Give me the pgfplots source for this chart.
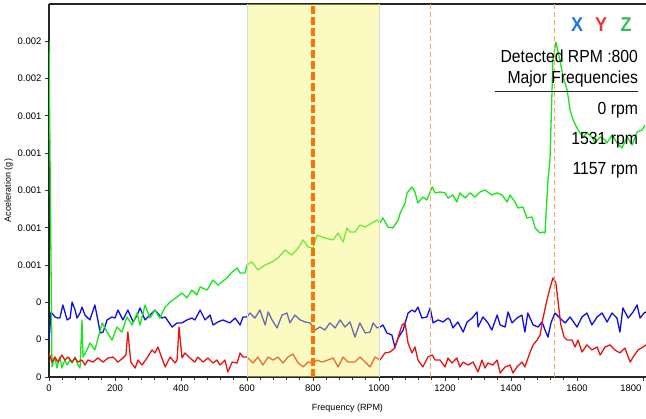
\documentclass[border=0pt]{standalone}
\usepackage{fontspec}
\setmainfont{Liberation Sans}
\newfontfamily\annfont[FakeStretch=0.9]{Liberation Sans}
\usepackage{pgfplots}
\pgfplotsset{compat=1.18}
\usetikzlibrary{calc}
\definecolor{cgreen}{RGB}{25,230,25}
\definecolor{cblue}{RGB}{15,15,225}
\definecolor{cred}{RGB}{232,20,20}
\definecolor{bandyellow}{RGB}{245,245,100}
\definecolor{dorange}{RGB}{250,115,5}
\definecolor{lorange}{RGB}{245,165,95}
\definecolor{legX}{RGB}{30,120,232}
\definecolor{legY}{RGB}{240,50,50}
\definecolor{legZ}{RGB}{50,190,85}
\begin{document}
\begin{tikzpicture}
\begin{axis}[
  scale only axis, width=597bp, height=373bp,
  xmin=0, xmax=1809, ymin=0, ymax=0.002,
  axis x line*=box, axis y line*=left,
  xtick pos=bottom, ytick pos=left,
  xtick={0,200,400,600,800,1000,1200,1400,1600},
  extra x ticks={1800},
  extra x tick style={grid=none, xticklabel style={anchor=north east, xshift=2bp}},
  minor x tick num=4,
  ytick={0,0.0002,0.0004,0.0006,0.0008,0.001,0.0012,0.0014,0.0016,0.0018},
  yticklabels={0,0,0,0.001,0.001,0.001,0.001,0.001,0.002,0.002},
  scaled y ticks=false,
  /pgf/number format/1000 sep={},
  /pgf/number format/assume math mode=true,
  tick align=outside, major tick length=4bp, minor tick length=2.5bp,
  tick style={black!80, line width=0.8bp},
  axis line style={black!85, line width=1.2bp},
  ticklabel style={font=\fontsize{9.5bp}{11bp}\selectfont},
  label style={font=\fontsize{9bp}{11bp}\selectfont},
  xlabel={Frequency (RPM)}, ylabel={Acceleration (g)},
  xlabel style={yshift=2bp},
  ylabel style={yshift=-2bp},
]
% Y axis (blue)
\addplot[cblue, line width=1.3bp, line join=round] coordinates {
(0,1.88e-4)(6,3.49e-4)(18,3.22e-4)(27,3.16e-4)(33,3.16e-4)(42,3.86e-4)(55,3.06e-4)(64,3.16e-4)(70,4.02e-4)(79,3.59e-4)
(85,3.16e-4)(94,3.43e-4)(100,3.75e-4)(109,3.32e-4)(118,3.16e-4)(124,3.06e-4)(139,3.86e-4)(148,3.06e-4)(155,2.36e-4)(164,2.41e-4)
(176,3.06e-4)(191,3.22e-4)(200,3.16e-4)(209,3.59e-4)(224,3.06e-4)(239,3.59e-4)(255,2.95e-4)(267,3.32e-4)(276,3.70e-4)(291,3.06e-4)
(306,3.32e-4)(321,3.59e-4)(342,3.16e-4)(352,3.22e-4)(373,2.68e-4)(388,2.90e-4)(403,2.90e-4)(418,3.06e-4)(433,3.16e-4)(442,3.06e-4)
(458,3.59e-4)(473,3.06e-4)(488,3.32e-4)(497,2.79e-4)(512,2.95e-4)(527,3.06e-4)(548,2.90e-4)(564,3.16e-4)(579,2.79e-4)(588,3.22e-4)
(600,3.22e-4)(609,3.43e-4)(624,3.16e-4)(639,3.59e-4)(655,2.79e-4)(664,3.49e-4)(676,3.06e-4)(691,2.63e-4)(706,3.32e-4)(721,3.43e-4)
(730,2.90e-4)(745,3.32e-4)(761,3.06e-4)(776,2.95e-4)(791,2.90e-4)(806,2.52e-4)(821,2.68e-4)(836,2.52e-4)(851,2.90e-4)(867,2.63e-4)
(882,3.06e-4)(897,2.68e-4)(912,2.95e-4)(927,2.14e-4)(942,2.90e-4)(958,2.36e-4)(973,2.41e-4)(982,2.90e-4)(994,2.63e-4)(1003,2.68e-4)
(1012,2.79e-4)(1024,2.36e-4)(1039,2.25e-4)(1048,1.61e-4)(1058,2.09e-4)(1073,2.52e-4)(1088,3.43e-4)(1100,3.59e-4)(1109,3.49e-4)(1118,3.75e-4)
(1130,3.16e-4)(1145,3.22e-4)(1155,3.70e-4)(1164,2.90e-4)(1179,3.06e-4)(1194,2.95e-4)(1209,3.16e-4)(1215,3.06e-4)(1224,2.63e-4)(1239,2.95e-4)
(1255,2.41e-4)(1267,2.95e-4)(1282,3.16e-4)(1297,3.49e-4)(1300,2.68e-4)(1315,3.22e-4)(1330,2.90e-4)(1342,2.52e-4)(1358,3.32e-4)(1367,2.79e-4)
(1382,2.68e-4)(1391,3.49e-4)(1403,2.90e-4)(1418,3.16e-4)(1433,3.32e-4)(1442,2.41e-4)(1451,3.43e-4)(1467,2.79e-4)(1482,2.68e-4)(1494,2.95e-4)
(1503,2.52e-4)(1512,2.14e-4)(1521,2.90e-4)(1533,3.43e-4)(1548,3.16e-4)(1564,2.90e-4)(1579,3.22e-4)(1600,2.68e-4)(1615,3.22e-4)(1630,3.43e-4)
(1645,2.79e-4)(1661,3.22e-4)(1676,3.43e-4)(1691,2.95e-4)(1706,3.43e-4)(1721,3.16e-4)(1730,2.41e-4)(1739,3.70e-4)(1755,3.16e-4)(1770,3.49e-4)
(1782,3.86e-4)(1791,3.16e-4)(1803,3.43e-4)(1809,3.49e-4)
};
% Z axis (green)
\addplot[cgreen, line width=1.3bp, line join=round] coordinates {
(0,18.0e-4)(9,0.54e-4)(18,1.07e-4)(24,0.48e-4)(33,1.07e-4)(39,0.48e-4)(48,0.91e-4)(55,0.64e-4)(64,0.91e-4)(70,0.75e-4)
(79,1.07e-4)(88,0.64e-4)(94,0.48e-4)(100,3.06e-4)(103,1.07e-4)(115,1.45e-4)(124,1.82e-4)(139,1.45e-4)(161,2.90e-4)(176,2.41e-4)
(191,1.98e-4)(206,2.68e-4)(221,2.41e-4)(236,3.22e-4)(252,2.79e-4)(267,3.43e-4)(276,2.79e-4)(291,3.86e-4)(306,3.16e-4)(321,3.59e-4)
(336,3.16e-4)(352,3.75e-4)(367,4.02e-4)(388,4.29e-4)(403,4.50e-4)(418,4.24e-4)(433,4.66e-4)(448,4.40e-4)(458,4.83e-4)(479,4.66e-4)
(497,5.20e-4)(512,4.93e-4)(539,5.31e-4)(555,5.63e-4)(570,5.84e-4)(579,5.58e-4)(594,5.58e-4)(600,6.01e-4)(615,6.17e-4)(633,5.74e-4)
(655,6.01e-4)(676,6.17e-4)(694,6.38e-4)(715,6.81e-4)(736,6.54e-4)(755,6.92e-4)(770,7.35e-4)(785,6.97e-4)(800,6.92e-4)(812,7.61e-4)
(836,7.45e-4)(861,7.35e-4)(876,7.72e-4)(891,7.24e-4)(903,7.99e-4)(912,7.77e-4)(927,7.77e-4)(942,8.15e-4)(958,8.04e-4)(979,8.26e-4)
(994,8.42e-4)(1003,8.26e-4)(1012,8.53e-4)(1027,8.04e-4)(1042,7.99e-4)(1058,8.42e-4)(1064,8.79e-4)(1079,9.33e-4)(1085,9.87e-4)(1100,10.19e-4)
(1109,9.92e-4)(1118,9.33e-4)(1133,9.65e-4)(1145,9.49e-4)(1161,10.19e-4)(1170,9.87e-4)(1185,9.92e-4)(1200,9.87e-4)(1209,9.60e-4)(1224,9.76e-4)
(1236,9.38e-4)(1245,9.87e-4)(1261,9.60e-4)(1276,9.87e-4)(1291,9.65e-4)(1306,9.92e-4)(1321,10.03e-4)(1342,9.76e-4)(1358,9.87e-4)(1373,9.76e-4)
(1388,9.38e-4)(1397,9.76e-4)(1412,9.38e-4)(1421,9.06e-4)(1436,9.12e-4)(1448,8.53e-4)(1464,8.58e-4)(1473,7.99e-4)(1488,7.72e-4)(1497,7.77e-4)
(1503,7.72e-4)(1512,10.56e-4)(1518,11.64e-4)(1527,17.0e-4)(1536,17.96e-4)(1548,17.0e-4)(1558,16.09e-4)(1570,15.39e-4)(1579,14.32e-4)(1588,13.78e-4)
(1600,13.35e-4)(1609,13.08e-4)(1618,12.87e-4)(1630,13.08e-4)(1645,12.87e-4)(1655,12.55e-4)(1670,12.87e-4)(1685,12.71e-4)(1691,12.55e-4)(1706,12.98e-4)
(1721,12.55e-4)(1736,12.28e-4)(1752,12.87e-4)(1767,12.44e-4)(1782,13.14e-4)(1797,13.24e-4)(1806,13.51e-4)
};
% X axis (red)
\addplot[cred, line width=1.3bp, line join=round] coordinates {
(0,1.29e-4)(9,0.80e-4)(18,1.07e-4)(27,0.80e-4)(39,1.18e-4)(48,0.91e-4)(58,1.07e-4)(70,0.80e-4)(79,1.02e-4)(88,0.80e-4)
(100,0.91e-4)(109,0.64e-4)(118,0.91e-4)(133,0.80e-4)(148,1.02e-4)(164,0.80e-4)(179,1.02e-4)(194,1.07e-4)(209,0.80e-4)(224,1.02e-4)
(233,1.18e-4)(239,2.41e-4)(248,0.80e-4)(261,0.48e-4)(270,0.91e-4)(282,0.64e-4)(297,1.02e-4)(312,1.45e-4)(321,1.29e-4)(330,1.61e-4)
(342,1.02e-4)(352,0.54e-4)(367,1.07e-4)(382,0.75e-4)(388,0.91e-4)(394,2.68e-4)(403,1.02e-4)(412,1.29e-4)(427,1.02e-4)(442,0.80e-4)
(451,1.07e-4)(467,0.80e-4)(482,1.02e-4)(497,0.75e-4)(509,0.91e-4)(518,0.64e-4)(533,0.91e-4)(542,0.27e-4)(555,0.80e-4)(570,0.75e-4)
(579,1.29e-4)(588,1.07e-4)(600,1.07e-4)(609,0.91e-4)(618,0.75e-4)(633,1.07e-4)(648,0.64e-4)(664,1.07e-4)(679,0.91e-4)(694,1.07e-4)
(709,0.75e-4)(724,1.07e-4)(739,1.23e-4)(755,0.75e-4)(770,0.54e-4)(785,0.80e-4)(800,0.75e-4)(812,0.91e-4)(827,0.80e-4)(845,0.91e-4)
(861,1.02e-4)(876,0.54e-4)(891,1.07e-4)(906,0.80e-4)(927,0.80e-4)(942,1.07e-4)(958,0.80e-4)(973,0.54e-4)(988,1.07e-4)(1003,0.91e-4)
(1018,1.29e-4)(1033,1.34e-4)(1048,1.55e-4)(1058,2.14e-4)(1070,2.79e-4)(1079,2.90e-4)(1088,1.82e-4)(1100,1.29e-4)(1109,1.61e-4)(1118,0.91e-4)
(1133,0.54e-4)(1148,1.07e-4)(1161,1.18e-4)(1170,0.91e-4)(1185,0.91e-4)(1200,0.54e-4)(1209,1.02e-4)(1221,0.75e-4)(1236,1.02e-4)(1245,0.54e-4)
(1255,0.80e-4)(1270,0.64e-4)(1285,0.80e-4)(1300,0.27e-4)(1312,0.91e-4)(1321,0.48e-4)(1330,0.75e-4)(1345,0.64e-4)(1358,0.91e-4)(1367,0.21e-4)
(1382,0.54e-4)(1397,0.64e-4)(1406,0.21e-4)(1418,0.54e-4)(1433,0.80e-4)(1442,0.54e-4)(1458,1.34e-4)(1467,1.72e-4)(1479,1.98e-4)(1488,2.25e-4)
(1497,3.16e-4)(1509,4.13e-4)(1518,4.77e-4)(1527,5.31e-4)(1536,5.04e-4)(1542,4.13e-4)(1551,2.79e-4)(1561,2.14e-4)(1570,1.98e-4)(1585,1.98e-4)
(1594,1.61e-4)(1603,1.98e-4)(1615,1.34e-4)(1630,1.72e-4)(1645,1.45e-4)(1661,1.61e-4)(1670,1.18e-4)(1685,1.61e-4)(1700,1.72e-4)(1715,1.45e-4)
(1730,1.29e-4)(1745,1.55e-4)(1761,0.80e-4)(1770,1.07e-4)(1785,1.45e-4)(1800,1.61e-4)(1809,1.72e-4)
};
% highlighted band 600-1000
\addplot[draw=none, fill=bandyellow, fill opacity=0.4] coordinates {(600,0.002) (1000,0.002)} \closedcycle;
\addplot[black!15, line width=0.6bp] coordinates {(600,0) (600,0.002)};
\addplot[black!15, line width=0.6bp] coordinates {(1000,0) (1000,0.002)};
% markers
\addplot[lorange, line width=0.8bp, dash pattern=on 5bp off 3bp] coordinates {(1157,0) (1157,0.002)};
\addplot[lorange, line width=0.8bp, dash pattern=on 5bp off 3bp] coordinates {(1531,0) (1531,0.002)};
\addplot[dorange, line width=3.3bp, dash pattern=on 8bp off 3bp] coordinates {(800,0) (800,0.002)};
\end{axis}
% annotations
\begin{scope}[every node/.style={inner sep=0pt, outer sep=0pt}]
\node[anchor=base, text=legX] at ($(current axis.north east)+(-69bp,-28bp)$) {\annfont\bfseries\fontsize{20bp}{22bp}\selectfont X};
\node[anchor=base, text=legY] at ($(current axis.north east)+(-45bp,-28bp)$) {\annfont\bfseries\fontsize{20bp}{22bp}\selectfont Y};
\node[anchor=base, text=legZ] at ($(current axis.north east)+(-20bp,-28bp)$) {\annfont\bfseries\fontsize{20bp}{22bp}\selectfont Z};
\node[anchor=base east] at ($(current axis.north east)+(-8bp,-59bp)$) {\annfont\fontsize{17.5bp}{20bp}\selectfont Detected RPM :800};
\node[anchor=base east] at ($(current axis.north east)+(-8bp,-80bp)$) {\annfont\fontsize{17.5bp}{20bp}\selectfont Major Frequencies};
\draw[black!85, line width=0.9bp] ($(current axis.north east)+(-151bp,-87bp)$) -- ($(current axis.north east)+(-8bp,-87bp)$);
\node[anchor=base east] at ($(current axis.north east)+(-8bp,-111bp)$) {\annfont\fontsize{17.5bp}{20bp}\selectfont 0 rpm};
\node[anchor=base east] at ($(current axis.north east)+(-8bp,-141bp)$) {\annfont\fontsize{17.5bp}{20bp}\selectfont 1531 rpm};
\node[anchor=base east] at ($(current axis.north east)+(-8bp,-171bp)$) {\annfont\fontsize{17.5bp}{20bp}\selectfont 1157 rpm};
\end{scope}
\pgfresetboundingbox
\path[use as bounding box] ($(current axis.south west)+(-49bp,-42bp)$) rectangle ($(current axis.north east)+(0bp,4bp)$);
\end{tikzpicture}
\end{document}
